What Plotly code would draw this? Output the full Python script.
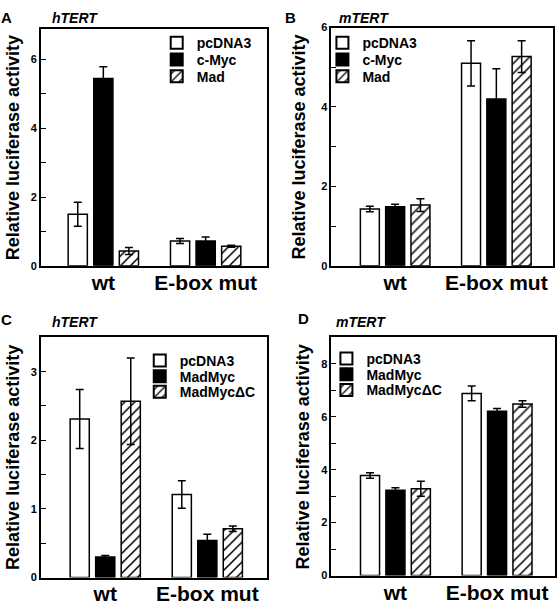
import plotly.graph_objects as go

groups = ["wt", "E-box mut"]

# Panel A (hTERT)
a_names = ["pcDNA3", "c-Myc", "Mad"]
a_vals = [[1.50, 0.72], [5.45, 0.72], [0.43, 0.57]]
a_errs = [[0.35, 0.07], [0.34, 0.12], [0.10, 0.03]]

# Panel B (mTERT)
b_names = ["pcDNA3", "c-Myc", "Mad"]
b_vals = [[1.43, 5.10], [1.49, 4.20], [1.53, 5.27]]
b_errs = [[0.07, 0.57], [0.06, 0.76], [0.16, 0.40]]

# Panel C (hTERT)
c_names = ["pcDNA3", "MadMyc", "MadMycΔC"]
c_vals = [[2.31, 1.21], [0.30, 0.54], [2.57, 0.71]]
c_errs = [[0.43, 0.20], [0.02, 0.09], [0.63, 0.04]]

# Panel D (mTERT)
d_names = ["pcDNA3", "MadMyc", "MadMycΔC"]
d_vals = [[3.78, 6.88], [3.22, 6.21], [3.28, 6.48]]
d_errs = [[0.10, 0.28], [0.10, 0.10], [0.28, 0.12]]

FONT = "Liberation Sans, Arial, Helvetica, sans-serif"
W, H = 557, 609

def px_x(v):
    return v / W

def px_y(v):
    return 1 - v / H

styles = [
    dict(color="white", pattern=dict(shape="")),
    dict(color="black", pattern=dict(shape="")),
    dict(color="white", pattern=dict(shape="/", fgcolor="black", bgcolor="white",
                                     size=7, solidity=0.22, fillmode="replace")),
]

panels = [
    # names, vals, errs, xaxis, yaxis, xdomain px, ydomain px, yrange, dtick, minor, xrange, legend text x, legend row ys
    (a_names, a_vals, a_errs, "x", "y", (41, 267), (23, 265), [0, 6.9], 2, 1, (-0.61, 1.595), 197, (38, 55, 72)),
    (b_names, b_vals, b_errs, "x2", "y2", (332, 554), (22, 265), [0, 6], 2, 1, (-0.63, 1.56), 363, (38, 55, 72)),
    (c_names, c_vals, c_errs, "x3", "y3", (41, 267), (338, 583), [0, 3.5], 1, 0.5, (-0.63, 1.58), 180, (362, 378, 394)),
    (d_names, d_vals, d_errs, "x4", "y4", (332, 556), (338, 581), [0, 9], 2, 1, (-0.63, 1.57), 367, (360, 376, 392)),
]

fig = go.Figure()
layout = dict(
    width=W, height=H,
    margin=dict(l=0, r=0, t=0, b=0),
    paper_bgcolor="white", plot_bgcolor="white",
    barmode="group", bargap=0.25, bargroupgap=0.25,
    font=dict(family=FONT, color="black", weight="bold"),
    showlegend=True,
)

leg_idx = 0
for (names, vals, errs, xa, ya, xd, yd, yr, dt, mn, xr, ltx, lys) in panels:
    for i, nm in enumerate(names):
        st = styles[i]
        leg_idx += 1
        lg = "legend" if leg_idx == 1 else "legend%d" % leg_idx
        fig.add_trace(go.Bar(
            x=groups, y=vals[i], name=nm,
            xaxis=xa, yaxis=ya, legend=lg,
            marker=dict(color=st["color"], line=dict(color="black", width=1.5),
                        pattern=st["pattern"]),
            error_y=dict(type="data", array=errs[i], visible=True,
                         color="black", thickness=1.5, width=4),
        ))
        layout[lg] = dict(
            x=px_x(ltx - 40), y=px_y(lys[i]), xanchor="left", yanchor="middle",
            bgcolor="rgba(0,0,0,0)", borderwidth=0,
            font=dict(size=14, family=FONT, weight="bold"),
            tracegroupgap=0, itemsizing="constant",
        )
    xkey = "xaxis" + xa[1:]
    ykey = "yaxis" + ya[1:]
    layout[xkey] = dict(
        domain=[px_x(xd[0]), px_x(xd[1])], anchor=ya,
        range=list(xr), showline=True, linecolor="black", linewidth=1.5,
        mirror=True, ticks="", showgrid=False, zeroline=False,
        tickfont=dict(size=21, family=FONT, weight="bold"),
        ticklabelstandoff=-3,
    )
    layout[ykey] = dict(
        domain=[px_y(yd[1]), px_y(yd[0])], anchor=xa,
        range=yr, dtick=dt, showline=True, linecolor="black", linewidth=1.5,
        mirror=True, ticks="inside", ticklen=5, tickwidth=1, tickcolor="black",
        minor=dict(dtick=mn, ticks="inside", ticklen=5, tickwidth=1, tickcolor="black"),
        showgrid=False, zeroline=False,
        tickfont=dict(size=11, family=FONT, weight="bold"),
    )

fig.update_layout(**layout)

# Panel letters, gene titles and y-axis titles
labels = [
    ("A", 7, 12, "hTERT", 50, 12),
    ("B", 291, 12, "mTERT", 338, 12),
    ("C", 7, 320, "hTERT", 50, 322),
    ("D", 304, 319, "mTERT", 335, 322),
]
for letter, lx, ly, gene, gx, gy in labels:
    fig.add_annotation(x=px_x(lx), y=px_y(ly), xref="paper", yref="paper",
                       text=letter, showarrow=False, xanchor="center", yanchor="middle",
                       font=dict(size=15, family=FONT, weight="bold"))
    fig.add_annotation(x=px_x(gx), y=px_y(gy), xref="paper", yref="paper",
                       text="<i>" + gene + "</i>", showarrow=False, xanchor="left", yanchor="middle",
                       font=dict(size=14, family=FONT, weight="bold"))

ytitles = [(13, 144), (300, 144), (13, 460), (303, 460)]
for tx, ty in ytitles:
    fig.add_annotation(x=px_x(tx), y=px_y(ty), xref="paper", yref="paper",
                       text="Relative luciferase activity", textangle=-90, showarrow=False,
                       xanchor="center", yanchor="middle",
                       font=dict(size=18, family=FONT, weight="bold"))

fig.write_html("out.html", config={"displayModeBar": False},
               post_script="document.body.style.margin='0';document.body.style.overflow='hidden';")
